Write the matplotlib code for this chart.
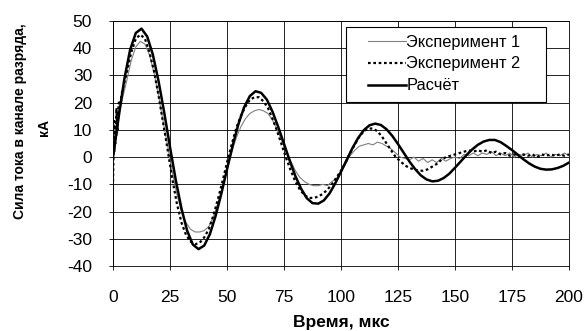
import numpy as np
import matplotlib
matplotlib.use("Agg")
import matplotlib.pyplot as plt
from matplotlib.patches import Rectangle

plt.rcParams['font.family'] = ['Liberation Sans', 'DejaVu Sans']
plt.rcParams['axes.unicode_minus'] = False

# time grid, microseconds
t_calc = np.arange(0, 200.1, 2.5)
t_exp = np.concatenate([[0, 0.5, 1, 1.5, 2, 2.5, 3], np.arange(4, 201, 2)])

# computed current, kA
calc = [0, 14.8, 28.8, 39.4, 45.6, 47.2, 44.3, 37.6, 27.8, 16.2,
        3.7, -8.3, -18.8, -27.0, -32.1, -33.8, -32.5, -28.3, -21.6, -13.5,
        -4.5, 4.3, 12.1, 18.3, 22.4, 24.2, 23.6, 21.1, 16.6, 11.0,
        4.9, -1.3, -7.0, -11.6, -15.1, -16.9, -17.1, -15.9, -13.3, -9.6,
        -5.4, -1.0, 3.3, 7.0, 9.9, 11.7, 12.3, 11.8, 10.2, 7.8,
        4.8, 1.6, -1.6, -4.4, -6.7, -8.2, -8.9, -8.7, -7.7, -6.1,
        -3.9, -1.6, 0.7, 2.8, 4.5, 5.7, 6.3, 6.3, 5.5, 4.1,
        2.6, 0.9, -0.8, -2.3, -3.5, -4.3, -4.6, -4.5, -4.0, -3.2,
        -2.0]

# experiment 1, kA
exp1 = [-9, 12, 2, 16, 8, 18, 17,
        21, 28, 35.5, 40.5, 42.5, 41.5, 37.5, 31, 22.5, 13,
        4, -5.5, -13.5, -20, -24, -26.5, -27.5, -27.5, -27, -25.5,
        -22, -17, -11, -4.5, 1.5, 7, 11, 14, 16, 17,
        17.5, 17, 16, 13.5, 10, 6, 2, -1.5, -5, -7.5,
        -9, -10, -10.5, -10.5, -10, -10.5, -9, -8, -5, -2.5,
        0.5, 2.5, 4, 4.5, 5, 4.5, 5.5, 5, 4, 3,
        1.5, 0, -0.5, -1, 0, -1.5, -0.5, -2, -1, -2,
        -0.5, -1.5, -0.5, 0, -0.5, 1, 0.5, 1.5, 0.5, 1.5,
        1, 2, 0.5, 1.5, 0.5, 1.5, 0, 1, 0.5, 1.5,
        0, 1, 0.5, 1.5, 0, 1, 0.5, 1.5, 0.5]

# experiment 2, kA
exp2 = [-9, 14, 5, 18, 10, 20, 19,
        24, 31, 38.5, 43.5, 45, 43.5, 38.5, 31.5, 22.5, 12.5,
        2.5, -8, -17, -24, -28.5, -31, -32, -31.5, -29.5, -26.5,
        -21.5, -15.5, -9, -2, 4.5, 10.5, 15, 18.5, 21, 22,
        22, 20.5, 18, 14, 9.5, 4.5, -0.5, -5, -9, -12,
        -14, -15, -15, -14.5, -13.5, -12, -10, -7.5, -5, -2,
        1.5, 4.5, 7.5, 9.5, 10.5, 10.5, 9.5, 7.5, 5, 2.5,
        0, -1.5, -3, -4, -4.5, -5, -5, -4.5, -3.5, -2.5,
        -1, 0, 0.5, 1, 1.5, 2, 2.5, 2, 2.5, 2,
        2.5, 1.5, 2, 1, 1.5, 0.5, 1, 0, 1, 0.5,
        1, 0, 1, 0.5, 1, 0.5, 1, 0.5, 1]

fig = plt.figure(figsize=(5.87, 3.31), dpi=100)
ax = fig.add_axes([113/587, 1-266/331, 456/587, 245/331])

ax.plot(t_exp, exp1, color="#808080", linewidth=0.8, label="Эксперимент 1")
ax.plot(t_exp, exp2, color="black", linewidth=1.6, linestyle=(0, (1.2, 1.2)), label="Эксперимент 2")
ax.plot(t_calc, calc, color="black", linewidth=1.8, label="Расчёт")

ax.set_xlim(0, 200)
ax.set_ylim(-40, 50)
ax.set_xticks(np.arange(0, 201, 25))
ax.set_yticks(np.arange(-40, 51, 10))
ax.grid(True, color="black", linewidth=0.6)
ax.set_axisbelow(True)
for s in ax.spines.values():
    s.set_linewidth(0.6)
ax.tick_params(axis="x", direction="out", length=3, width=0.6, pad=14, labelsize=12.5)
ax.tick_params(axis="y", direction="out", length=3, width=0.6, pad=12, labelsize=12.5)

# axis titles
fig.text(341/587, 1-322/331, "Время, мкс", fontsize=12.5, fontweight="bold",
         ha="center", va="center")
fig.text(20/587, 1-121/331, "Сила тока в канале разряда,", rotation=90, fontsize=10,
         fontweight="bold", ha="center", va="center")
fig.text(44/587, 1-127/331, "кА", rotation=90, fontsize=10,
         fontweight="bold", ha="center", va="center")

# legend box drawn separately (wide horizontal padding)
ax.add_patch(Rectangle((0.511, 0.669), 0.4386, 0.3065, transform=ax.transAxes,
                       facecolor="white", edgecolor="black", linewidth=0.8, zorder=5))
leg = ax.legend(loc="center left", bbox_to_anchor=(0.559, 0.8245), fontsize=11.8,
                frameon=False, handlelength=2.3, handletextpad=0.05,
                labelspacing=0.42, borderpad=0, borderaxespad=0)
leg.set_zorder(6)

fig.savefig("out.png", dpi=100)
